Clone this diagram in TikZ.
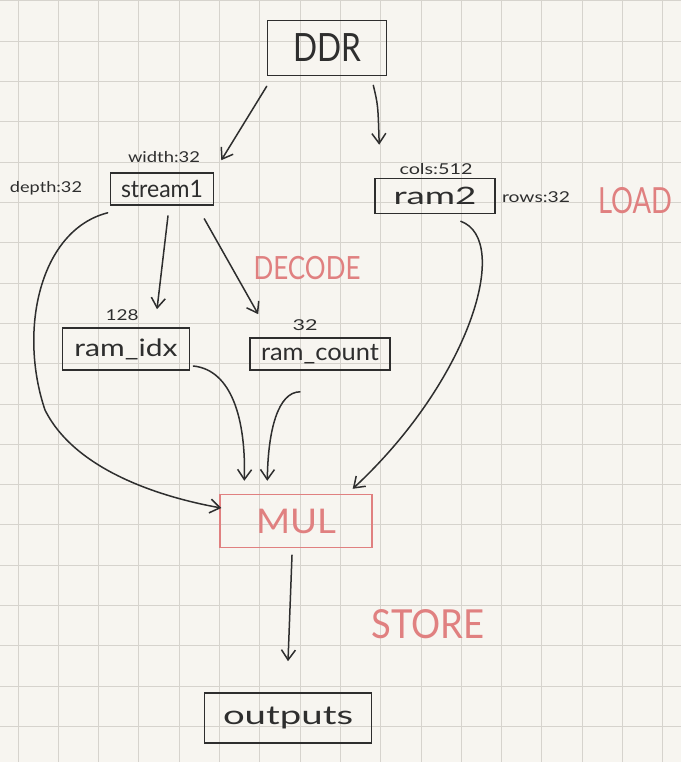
\documentclass[tikz,border=0pt]{standalone}
\usepackage{fontspec}
\usepackage{graphicx}
\setmainfont{Lato}
\usetikzlibrary{arrows.meta,calc}
\definecolor{paper}{HTML}{F7F5F0}
\definecolor{gridc}{HTML}{D6D3CD}
\definecolor{ink}{HTML}{2E2E2E}
\definecolor{redink}{HTML}{E08080}
\newcommand{\hw}[3]{\fontsize{#1}{#1}\selectfont\resizebox{#2}{\height}{#3}}
\begin{document}
\begin{tikzpicture}[x=1pt,y=-1pt,
  box/.style={draw=ink,line width=1.6pt,inner sep=0pt,text=ink},
  redbox/.style={draw=redink,line width=1.4pt,inner sep=0pt,text=redink},
  lbl/.style={inner sep=0pt,text=ink},
  redlbl/.style={inner sep=0pt,text=redink},
  conn/.style={draw=ink,line width=1.5pt,line cap=round,-{Straight Barb[length=10pt,width=14pt]}},
  gridline/.style={draw=gridc,line width=1pt}]
\useasboundingbox (0,0) rectangle (681,762);
\fill[paper] (0,0) rectangle (681,762);
\foreach \k in {0,...,16} {\draw[gridline] ({18+40.3*\k},0) -- ({18+40.3*\k},762);}
\foreach \k in {0,...,18} {\draw[gridline] (0,{1+40.3*\k}) -- (681,{1+40.3*\k});}

% boxes
\node[box,minimum width=119pt,minimum height=55pt] (ddr) at (327,48) {\hw{39}{68pt}{DDR}};
\node[box,minimum width=103pt,minimum height=32pt] (s1) at (162,189) {\hw{24}{82pt}{stream1}};
\node[box,minimum width=120pt,minimum height=35pt] (ram2) at (435,196) {\hw{24}{83pt}{ram2}};
\node[box,minimum width=127pt,minimum height=42pt] (ridx) at (126,349) {\hw{24}{103pt}{ram\_idx}};
\node[box,minimum width=140pt,minimum height=32pt] (rcount) at (320,354) {\hw{24}{118pt}{ram\_count}};
\node[redbox,minimum width=152pt,minimum height=53pt] (mul) at (296,521) {\hw{34}{80pt}{MUL}};
\node[box,minimum width=167pt,minimum height=50pt] (out) at (288,718) {\hw{26}{130pt}{outputs}};

% labels
\node[lbl] (lwidth) at (164,157) {\hw{15}{72pt}{width:32}};
\node[lbl] (ldepth) at (46,188) {\hw{15}{72pt}{depth:32}};
\node[lbl] (lcols) at (436,169) {\hw{15}{73pt}{cols:512}};
\node[lbl] (lrows) at (536,197) {\hw{15}{68pt}{rows:32}};
\node[lbl] (l128) at (122,315) {\hw{15}{33pt}{128}};
\node[lbl] (l32) at (305,325) {\hw{15}{25pt}{32}};
\node[redlbl] (decode) at (307,268) {\hw{32}{107pt}{DECODE}};
\node[redlbl] (load) at (635,201) {\hw{36}{74pt}{LOAD}};
\node[redlbl] (store) at (428,624) {\hw{40}{113pt}{STORE}};

% connectors
\draw[conn] ($(ddr.south west)+(0,10)$) -- ($(s1.north east)+(7,-12)$);
\draw[conn] ($(ddr.south east)+(-14,9)$) .. controls (378,105) .. ($(ram2.north west)+(5,-33)$);
\draw[conn] ($(s1.south)+(6,10)$) -- ($(ridx.north)+(31,-18)$);
\draw[conn] ($(s1.south east)+(-10,13)$) -- ($(rcount.north west)+(9,-23)$);
\draw[conn] ($(s1.south west)+(-2,7)$) .. controls (40,230) and (18,330) .. (45,410) .. controls (75,470) and (160,497) .. ($(mul.west)+(2,-13)$);
\draw[conn] ($(ridx.east)+(3,17)$) .. controls (232,370) and (246,420) .. ($(mul.north west)+(25,-13)$);
\draw[conn] ($(rcount.south)+(-20,21)$) .. controls (278,392) and (268,430) .. ($(mul.north west)+(48,-13)$);
\draw[conn] ($(ram2.south east)+(-35,7)$) .. controls (512,240) and (470,380) .. ($(mul.north east)+(-20,-5)$);
\draw[conn] ($(mul.south)+(-4,7)$) -- ($(out.north)+(0,-31)$);
\end{tikzpicture}
\end{document}
